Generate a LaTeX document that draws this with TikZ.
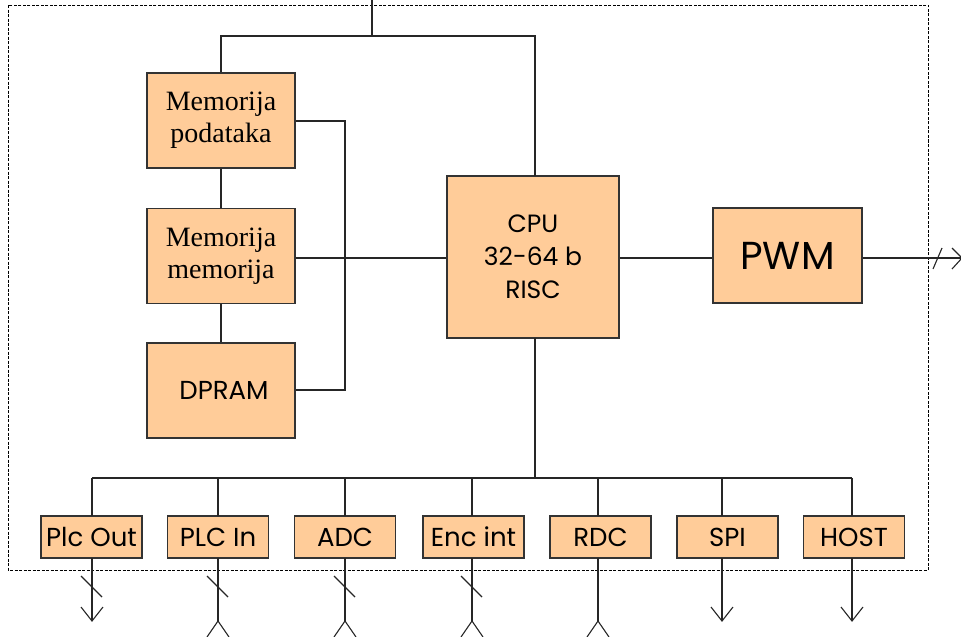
\documentclass[tikz,border=0pt]{standalone}
\usepackage{fontspec}
\setmainfont{Liberation Serif}
\setsansfont{Poppins}
\definecolor{boxfill}{HTML}{FFCC99}
\definecolor{boxline}{HTML}{333333}
\begin{document}
\begin{tikzpicture}[x=1pt,y=-1pt,
  blk/.style={draw=boxline,fill=boxfill,line width=1.2pt,inner sep=0pt,align=center},
  memblk/.style={blk,minimum width=148pt,minimum height=95pt,font=\rmfamily\fontsize{28}{32}\selectfont},
  iob/.style={blk,minimum width=101pt,minimum height=42pt,font=\sffamily\fontsize{26}{30}\selectfont},
  wire/.style={draw=black!85,line width=1.1pt},
  frame/.style={draw=black,line width=0.8pt,dash pattern=on 3pt off 1.5pt}]
\useasboundingbox (0,0) rectangle (961,637);
% outer dashed frame
\draw[frame] (8,5) rectangle (928,570);
% memory column
\node[memblk] (mp) at (221,120.5) {Memorija\\podataka};
\node[memblk] (mm) at (221,256) {Memorija\\memorija};
\node[memblk,font=\sffamily\fontsize{26}{30}\selectfont] (dp) at (221,390.5) {\hspace*{6pt}DPRAM};
% CPU and PWM
\node[blk,minimum width=172pt,minimum height=162pt,font=\sffamily\fontsize{25}{33}\selectfont] (cpu) at (533,257) {CPU\\32-64 b\\RISC};
\node[blk,minimum width=149pt,minimum height=95pt,font=\sffamily\fontsize{39}{46}\selectfont] (pwm) at (787.5,255.5) {PWM};
% bottom IO blocks
\node[iob] (po) at (91.5,537) {Plc Out};
\node[iob] (pi) at (218,537) {PLC In};
\node[iob] (adc) at (345,537) {ADC};
\node[iob] (enc) at (473.5,537) {Enc int};
\node[iob] (rdc) at (600.5,537) {RDC};
\node[iob] (spi) at (727.5,537) {SPI};
\node[iob] (host) at (854,537) {HOST};
% coordinates
\coordinate (top) at (372,0);
\coordinate (tj) at (372,36);
\coordinate (cpuT) at (535,176);
\coordinate (cpuB) at (535,338);
\coordinate (bj) at (535,478);
\coordinate (mbus) at (345,258);
\coordinate (outR) at (961,258);
% top bus
\draw[wire] (top) -- (tj);
\draw[wire] (mp.north) |- (cpuT |- tj) -- (cpuT);
\draw[wire] (mp.south) -- (mm.north);
\draw[wire] (mm.south) -- (dp.north);
\draw[wire] (mp.east |- 0,121) -| (345,390) -- (dp.east |- 0,390);
\draw[wire] (mm.east |- mbus) -- (cpu.west |- mbus);
\draw[wire] (cpu.east |- outR) -- (pwm.west |- outR);
\draw[wire] (pwm.east |- outR) -- (outR);
\draw[wire] (933,269) -- (942,248);
\draw[wire] (952,248) -- (962,258) -- (952,269);
% bottom bus
\draw[wire] (cpuB) -- (bj);
\draw[wire] (92,478) -- (852,478);
\foreach \n/\x in {po/92,pi/218,adc/345,enc/472,rdc/598,spi/722,host/852}{
  \draw[wire] (\x,478) -- (\x,516);
}
% outputs (downward arrows)
\foreach \n/\x in {po/92,spi/722,host/852}{
  \draw[wire] (\x,558) -- (\x,621);
  \draw[wire] (\x-11,607) -- (\x,621) -- (\x+11,607);
}
% inputs (upward arrows at bottom)
\foreach \n/\x in {pi/218,adc/345,enc/472,rdc/598}{
  \draw[wire] (\x,558) -- (\x,621);
  \draw[wire] (\x-11,637) -- (\x,621) -- (\x+11,637);
}
% bus-width slashes
\foreach \x in {92,218,345,472}{
  \draw[wire] (\x-11,576) -- (\x+10,597);
}
\end{tikzpicture}
\end{document}
